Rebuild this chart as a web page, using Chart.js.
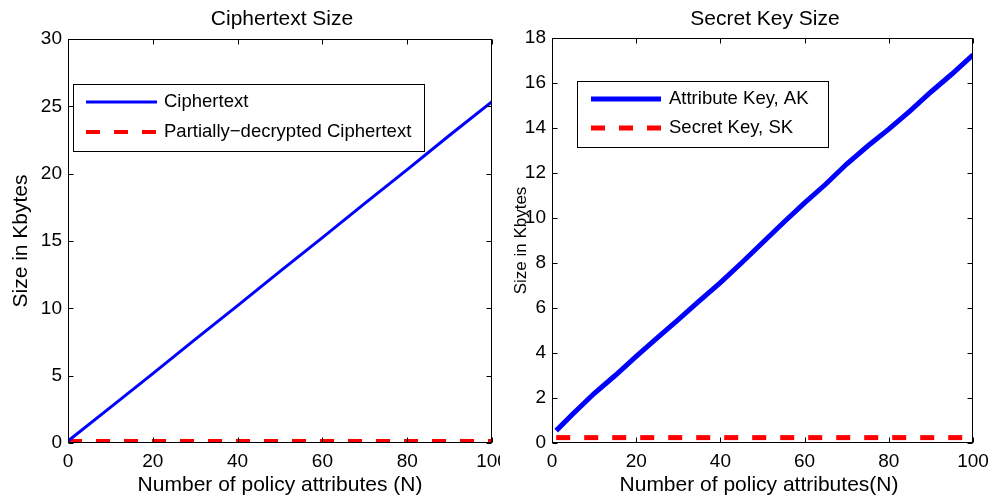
<!DOCTYPE html>
<html>
<head>
<meta charset="utf-8">
<script src="https://cdn.jsdelivr.net/npm/chart.js@4/dist/chart.umd.min.js"></script>
<style>
body { margin: 0; background: #fff; }
#wrap { position: relative; width: 991px; height: 502px; overflow: hidden; background: #fff; }
canvas { position: absolute; top: 0; }
</style>
</head>
<body>
<div id="wrap">
    <canvas id="left" width="500" height="502" style="left:0"></canvas>
    <canvas id="right" width="491" height="502" style="left:500px"></canvas>
</div>
<script>
const FONT = "'Liberation Sans', Arial, sans-serif";
Chart.defaults.font.family = FONT;
Chart.defaults.color = '#000';

// données du graphique de gauche (taille du chiffré)
const cipherX = [0, 10, 20, 30, 40, 50, 60, 70, 80, 90, 100];
const cipherY = [0.15, 2.65, 5.15, 7.7, 10.2, 12.75, 15.25, 17.8, 20.3, 22.85, 25.35];
const partialX = [0, 100];
const partialY = [0.15, 0.15];
const cipherTicksY = [0, 5, 10, 15, 20, 25, 30];

// données du graphique de droite (taille des clés)
const attrX = [1, 5, 10, 15, 20, 25, 30, 35, 40, 45, 50, 55, 60, 65, 70, 75, 80, 85, 90, 95, 100];
const attrY = [0.55, 1.3, 2.2, 3.0, 3.85, 4.67, 5.48, 6.32, 7.13, 8.0, 8.9, 9.8, 10.67, 11.5, 12.4, 13.2, 13.95, 14.75, 15.6, 16.4, 17.25];
const skX = [1, 100];
const skY = [0.24, 0.24];
const keyTicksY = [0, 2, 4, 6, 8, 10, 12, 14, 16, 18];

const xTicks = [0, 20, 40, 60, 80, 100];

const toPoints = (xs, ys) => xs.map((x, i) => ({ x: x, y: ys[i] }));

/**
 * Dessine le cadre, les graduations internes, les titres et la légende façon MATLAB
 */
const matlabAxes = {
    id: 'matlabAxes',
    afterDatasetsDraw(chart, args, opts) {
        const { ctx, chartArea: a, scales } = chart;
        ctx.save();
        ctx.setLineDash([]);
        ctx.strokeStyle = '#000';
        ctx.lineWidth = 1;

        const L = Math.round(a.left) + 0.5, R = Math.round(a.right) - 0.5;
        const T = Math.round(a.top) + 0.5, B = Math.round(a.bottom) - 0.5;
        ctx.strokeRect(L, T, R - L, B - T);

        //graduations vers l'intérieur, sur les quatre côtés
        const tl = 5;
        ctx.beginPath();
        opts.xTicks.forEach(v => {
            const px = Math.round(scales.x.getPixelForValue(v)) + 0.5;
            ctx.moveTo(px, B); ctx.lineTo(px, B - tl);
            ctx.moveTo(px, T); ctx.lineTo(px, T + tl);
        });
        opts.yTicks.forEach(v => {
            const py = Math.round(scales.y.getPixelForValue(v)) + 0.5;
            ctx.moveTo(L, py); ctx.lineTo(L + tl, py);
            ctx.moveTo(R, py); ctx.lineTo(R - tl, py);
        });
        ctx.stroke();

        ctx.fillStyle = '#000';
        ctx.textAlign = 'center';
        ctx.textBaseline = 'alphabetic';
        ctx.font = opts.titleSize + 'px ' + FONT;
        ctx.fillText(opts.title, opts.titleX, opts.titleY);
        ctx.font = opts.xlabelSize + 'px ' + FONT;
        ctx.fillText(opts.xlabel, opts.xlabelX, opts.xlabelY);

        ctx.save();
        ctx.translate(opts.ylabelX, (a.top + a.bottom) / 2);
        ctx.rotate(-Math.PI / 2);
        ctx.textBaseline = 'middle';
        ctx.font = opts.ylabelSize + 'px ' + FONT;
        ctx.fillText(opts.ylabel, 0, 0);
        ctx.restore();

        //légende
        const lg = opts.legend;
        ctx.fillStyle = '#fff';
        ctx.fillRect(lg.x, lg.y, lg.w, lg.h);
        ctx.strokeStyle = '#000';
        ctx.lineWidth = 1;
        ctx.strokeRect(lg.x + 0.5, lg.y + 0.5, lg.w, lg.h);
        ctx.font = lg.size + 'px ' + FONT;
        ctx.textAlign = 'left';
        ctx.textBaseline = 'middle';
        chart.data.datasets.forEach((ds, i) => {
            const y = lg.rows[i];
            ctx.strokeStyle = ds.borderColor;
            ctx.lineWidth = ds.borderWidth;
            ctx.setLineDash(ds.borderDash || []);
            ctx.lineCap = 'butt';
            ctx.beginPath();
            ctx.moveTo(lg.lineX0, y);
            ctx.lineTo(lg.lineX1, y);
            ctx.stroke();
            ctx.setLineDash([]);
            ctx.fillStyle = '#000';
            ctx.fillText(ds.label, lg.textX, y);
        });
        ctx.restore();
    }
};

const makeScales = (yMax, yTicks, yWidth, xHeight, tickSize) => ({
    x: {
        type: 'linear', min: 0, max: 100,
        afterBuildTicks: s => { s.ticks = xTicks.map(v => ({ value: v })); },
        grid: { display: false, drawTicks: false }, border: { display: false },
        ticks: { padding: 7, autoSkip: false, maxRotation: 0, font: { size: tickSize } },
        afterFit: s => { s.height = xHeight; s.paddingLeft = 0; s.paddingRight = 0; }
    },
    y: {
        type: 'linear', min: 0, max: yMax,
        afterBuildTicks: s => { s.ticks = yTicks.map(v => ({ value: v })); },
        grid: { display: false, drawTicks: false }, border: { display: false },
        ticks: { padding: 6, autoSkip: false, font: { size: tickSize } },
        afterFit: s => { s.width = yWidth; s.paddingTop = 0; s.paddingBottom = 0; }
    }
});

new Chart(document.getElementById('left'), {
    type: 'line',
    data: {
        datasets: [
            { label: 'Ciphertext', data: toPoints(cipherX, cipherY), borderColor: '#0000ff', borderWidth: 3, pointRadius: 0, tension: 0 },
            { label: 'Partially\u2212decrypted Ciphertext', data: toPoints(partialX, partialY), borderColor: '#ff0000', borderWidth: 4, borderDash: [14, 14], pointRadius: 0, tension: 0 }
        ]
    },
    options: {
        responsive: false, animation: false, devicePixelRatio: 1,
        layout: { padding: { top: 39, right: 8, left: 0, bottom: 0 } },
        scales: makeScales(30, cipherTicksY, 68, 59, 19),
        plugins: {
            legend: { display: false }, tooltip: { enabled: false },
            matlabAxes: {
                xTicks: xTicks, yTicks: cipherTicksY,
                title: 'Ciphertext Size', titleX: 282, titleY: 25, titleSize: 21,
                xlabel: 'Number of policy attributes (N)', xlabelX: 280, xlabelY: 491, xlabelSize: 21,
                ylabel: 'Size in Kbytes', ylabelX: 21, ylabelSize: 21,
                legend: { x: 73, y: 84, w: 351, h: 67, rows: [102, 132], lineX0: 86, lineX1: 157, textX: 164, size: 18.5 }
            }
        }
    },
    plugins: [matlabAxes]
});

new Chart(document.getElementById('right'), {
    type: 'line',
    data: {
        datasets: [
            { label: 'Attribute Key, AK', data: toPoints(attrX, attrY), borderColor: '#0000ff', borderWidth: 5, pointRadius: 0, tension: 0 },
            { label: 'Secret Key, SK', data: toPoints(skX, skY), borderColor: '#ff0000', borderWidth: 5, borderDash: [14, 14], pointRadius: 0, tension: 0 }
        ]
    },
    options: {
        responsive: false, animation: false, devicePixelRatio: 1,
        layout: { padding: { top: 38, right: 18, left: 0, bottom: 0 } },
        scales: makeScales(18, keyTicksY, 52, 59, 19),
        plugins: {
            legend: { display: false }, tooltip: { enabled: false },
            matlabAxes: {
                xTicks: xTicks, yTicks: keyTicksY,
                title: 'Secret Key Size', titleX: 265, titleY: 25, titleSize: 21,
                xlabel: 'Number of policy attributes(N)', xlabelX: 259, xlabelY: 491, xlabelSize: 21,
                ylabel: 'Size in Kbytes', ylabelX: 21, ylabelSize: 17,
                legend: { x: 77, y: 81, w: 251, h: 66, rows: [99, 128], lineX0: 91, lineX1: 161, textX: 169, size: 18.5 }
            }
        }
    },
    plugins: [matlabAxes]
});
</script>
</body>
</html>
